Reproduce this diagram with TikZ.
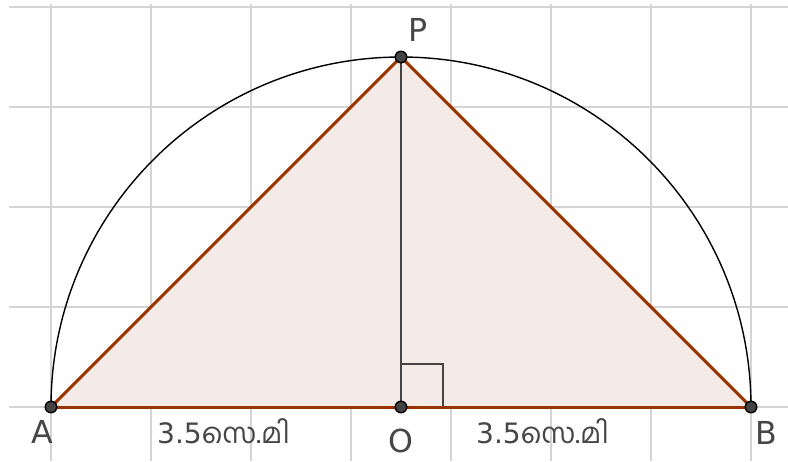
\documentclass[tikz,border=0pt]{standalone}
\usepackage{fontspec}
\setmainfont{DejaVu Sans}
\newfontfamily\malfont[Script=Malayalam]{Hind Kochi}
\usepackage{xcolor}
\usetikzlibrary{positioning}
\definecolor{gridgray}{RGB}{212,212,212}
\definecolor{edgebrown}{RGB}{153,51,0}
\definecolor{fillbrown}{RGB}{245,235,230}
\definecolor{ptgray}{RGB}{68,68,68}
\definecolor{lblgray}{RGB}{70,70,70}
\newcommand{\cm}{\malfont സെ.മി}

\begin{document}
\begin{tikzpicture}[
  gridline/.style={gridgray, line width=0.55pt},
  edge/.style={edgebrown, line width=0.85pt},
  pt/.style={circle, draw=black, fill=ptgray, line width=0.4pt, inner sep=0pt, minimum size=0.115cm},
  lbl/.style={text=lblgray, font=\fontsize{9}{10}\selectfont, inner sep=0pt},
  len/.style={text=lblgray, font=\fontsize{8}{9}\selectfont, inner sep=0pt}
]
  \useasboundingbox (-4.01,-0.54) rectangle (3.87,4.07);
  % grid
  \foreach \y in {0,...,4}
    \draw[gridline] (-3.92,\y) -- (3.87,\y);
  \foreach \x in {-3.5,-2.5,...,3.5}
    \draw[gridline] (\x,-0.54) -- (\x,4.03);

  \coordinate (O) at (0,0);
  \coordinate (A) at (-3.5,0);
  \coordinate (B) at (3.5,0);
  \coordinate (P) at (0,3.5);

  % triangle
  \fill[fillbrown] (A) -- (B) -- (P) -- cycle;
  \draw[black, line width=0.4pt] (B) arc[start angle=0, end angle=180, radius=3.5];
  \draw[ptgray, line width=0.7pt] (O) -- (P);
  \draw[ptgray, line width=0.45pt] (0,0.43) -- (0.42,0.43) -- (0.42,0);
  \draw[edge] (A) -- (B);
  \draw[edge] (A) -- (P);
  \draw[edge] (B) -- (P);

  % points
  \node[pt] (pA) at (A) {};
  \node[pt] (pB) at (B) {};
  \node[pt] (pO) at (O) {};
  \node[pt] (pP) at (P) {};

  % labels
  \node[lbl] (lA) at (-3.59,-0.25) {A};
  \node[lbl] (lB) at (3.65,-0.26) {B};
  \node[lbl] (lO) at (0,-0.34) {O};
  \node[lbl] (lP) at (0.17,3.77) {P};
  \node[len] (dAO) at (-1.775,-0.24) {3.5\cm};
  \node[len] (dOB) at (1.415,-0.24) {3.5\cm};
\end{tikzpicture}
\end{document}
